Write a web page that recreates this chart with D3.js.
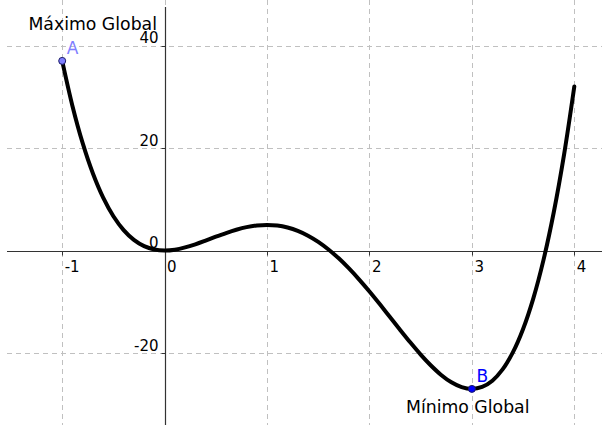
<!DOCTYPE html>
<html><head><meta charset="utf-8">
<script src="https://cdn.jsdelivr.net/npm/d3@7"></script>
<style>body{margin:0;background:#fff}svg{display:block}text{font-family:"DejaVu Sans",sans-serif}</style>
</head><body>
<svg id="c" width="602" height="425"></svg>
<script>
const xTicks = [-1, 0, 1, 2, 3, 4];
const yTicks = [-20, 0, 20, 40];
const xTickLabels = ["-1", "0", "1", "2", "3", "4"];
const yTickLabels = ["-20", "0", "20", "40"];
const curveX = [-1,-0.9,-0.8,-0.7,-0.6,-0.5,-0.4,-0.3,-0.2,-0.1,0,0.1,0.2,0.3,0.4,0.5,0.6,0.7,0.8,0.9,1,1.1,1.2,1.3,1.4,1.5,1.6,1.7,1.8,1.9,2,2.1,2.2,2.3,2.4,2.5,2.6,2.7,2.8,2.9,3,3.1,3.2,3.3,3.4,3.5,3.6,3.7,3.8,3.9,4];
const curveY = [37,28.21,20.94,15.03,10.32,6.69,3.98,2.08,0.85,0.2,0,0.16,0.6,1.21,1.93,2.69,3.41,4.05,4.56,4.88,5,4.88,4.49,3.84,2.9,1.69,0.2,-1.53,-3.5,-5.67,-8,-10.45,-12.97,-15.5,-17.97,-20.31,-22.44,-24.28,-25.72,-26.66,-27,-26.62,-25.4,-23.2,-19.88,-15.31,-9.33,-1.78,7.51,18.71,32];
const pointNames = ["A", "B"];
const pointX = [-1, 3];
const pointY = [37, -27];
const annotations = ["Máximo Global", "Mínimo Global"];

const svg = d3.select("#c");
const W = 602, H = 425;
const x = d3.scaleLinear().domain([-1, 4]).range([62.2, 574.3]);
const y = d3.scaleLinear().domain([-20, 40]).range([353, 45.5]);

// grid
svg.append("g").selectAll("line").data(xTicks).join("line")
  .attr("x1", d => Math.round(x(d)) + 0.5).attr("x2", d => Math.round(x(d)) + 0.5)
  .attr("y1", 0).attr("y2", H)
  .attr("stroke", "#c0c0c0").attr("stroke-width", 1).attr("stroke-dasharray", "5,4");
svg.append("g").selectAll("line").data(yTicks.filter(d => d !== 0)).join("line")
  .attr("y1", d => Math.round(y(d)) + 0.5).attr("y2", d => Math.round(y(d)) + 0.5)
  .attr("x1", 7).attr("x2", W)
  .attr("stroke", "#c0c0c0").attr("stroke-width", 1).attr("stroke-dasharray", "5,4");

// axes
const x0 = Math.round(x(0)) + 0.5, y0 = Math.round(y(0)) + 0.5;
svg.append("line").attr("x1", 7).attr("x2", W).attr("y1", y0).attr("y2", y0).attr("stroke", "#333").attr("stroke-width", 1.2);
svg.append("line").attr("x1", x0).attr("x2", x0).attr("y1", 7).attr("y2", H).attr("stroke", "#333").attr("stroke-width", 1.2);
svg.append("g").selectAll("line").data(xTicks.filter(d => d !== 0)).join("line")
  .attr("x1", d => Math.round(x(d)) + 0.5).attr("x2", d => Math.round(x(d)) + 0.5)
  .attr("y1", y0).attr("y2", y0 + 4).attr("stroke", "#333");
svg.append("g").selectAll("line").data(yTicks.filter(d => d !== 0)).join("line")
  .attr("y1", d => Math.round(y(d)) + 0.5).attr("y2", d => Math.round(y(d)) + 0.5)
  .attr("x1", x0 - 4).attr("x2", x0).attr("stroke", "#333");

// tick labels
svg.append("g").selectAll("text").data(xTicks).join("text")
  .attr("x", d => x(d) + 2.5).attr("y", y0 + 20.5)
  .attr("font-size", 15).attr("fill", "#000")
  .text((d, i) => xTickLabels[i]);
svg.append("g").selectAll("text").data(yTicks).join("text")
  .attr("x", x0 - 7).attr("y", d => y(d) - 2.5)
  .attr("text-anchor", "end").attr("font-size", 15).attr("fill", "#000")
  .text((d, i) => yTickLabels[i]);

// curve
const pts = curveX.map((v, i) => [v, curveY[i]]);
svg.append("path").datum(pts)
  .attr("d", d3.line().x(d => x(d[0])).y(d => y(d[1])).curve(d3.curveCatmullRom))
  .attr("fill", "none").attr("stroke", "#000").attr("stroke-width", 4).attr("stroke-linecap", "round");

// points
const pFill = ["#7f7fff", "#0000ff"];
const pLabel = ["#7f7fff", "#0000ff"];
pointNames.forEach((n, i) => {
  svg.append("circle").attr("cx", x(pointX[i])).attr("cy", y(pointY[i])).attr("r", 3.5)
    .attr("fill", pFill[i]).attr("stroke", "#1a1a66").attr("stroke-width", 1);
  svg.append("text").attr("x", x(pointX[i]) + 4.5).attr("y", y(pointY[i]) - 6.5)
    .attr("font-size", 17).attr("fill", pLabel[i]).text(n);
});

svg.append("text").attr("x", 157).attr("y", 30).attr("text-anchor", "end")
  .attr("font-size", 17.3).attr("fill", "#000").text(annotations[0]);
svg.append("text").attr("x", 406).attr("y", 413)
  .attr("font-size", 17.3).attr("fill", "#000").text(annotations[1]);
</script>
</body></html>
